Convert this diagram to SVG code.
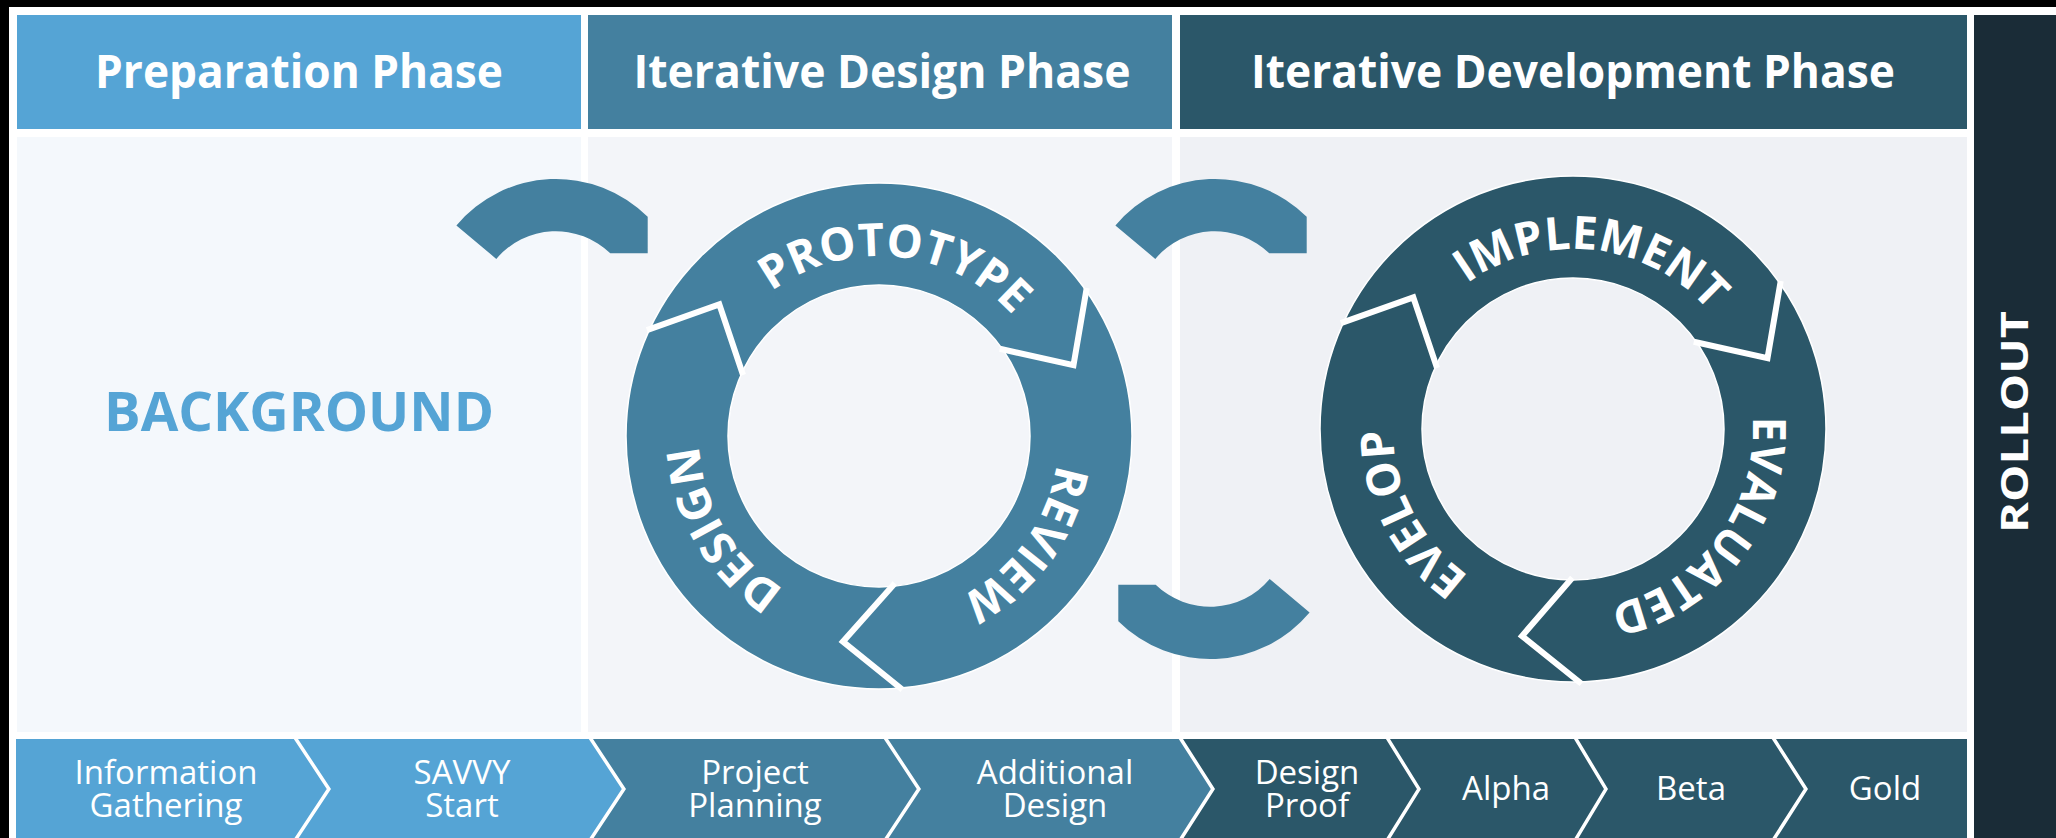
<svg xmlns="http://www.w3.org/2000/svg" width="2056" height="838" viewBox="0 0 2056 838">
<style>
.hdr{font-family:"Open Sans","Noto Sans","DejaVu Sans",sans-serif;font-weight:700;font-size:47px;fill:#fff;text-anchor:middle}
.ring{font-family:"Open Sans","Noto Sans","DejaVu Sans",sans-serif;font-weight:700;font-size:46px;fill:#fff;text-anchor:middle}
.chv{font-family:"Open Sans","Noto Sans","DejaVu Sans",sans-serif;font-size:33px;fill:#fff;text-anchor:middle}
.sep{fill:none;stroke:#fff;stroke-width:6;stroke-linejoin:miter;stroke-linecap:square}
.csep{fill:none;stroke:#fff;stroke-width:7;stroke-linejoin:miter}
.light{fill:#55a4d5}.mid{fill:#44809f}.dark{fill:#2b5769}
.ringbody{fill-rule:evenodd;stroke:#fff;stroke-width:1.5}
</style>
<defs>
<path id="arcD" d="M699.69,420.31 A180,180 0 0 1 1058.31,420.31"/>
<path id="arcV" d="M1393.69,413.31 A180,180 0 0 1 1752.31,413.31"/>
<path id="conn" d="M-99.6,-83.6 A130,130 0 0 1 91.7,-92.2 L91.7,-55.7 L54.3,-55.7 A78,78 0 0 0 -59.7,-50.1 Z"/>
</defs>

<rect width="2056" height="838" fill="#000"/>
<rect x="9" y="7" width="2047" height="831" fill="#fff"/>

<g id="backgrounds">
<rect x="17" y="137" width="564" height="595" fill="#f4f8fc"/>
<rect x="588" y="137" width="584" height="595" fill="#f3f5f9"/>
<rect x="1180" y="137" width="787" height="595" fill="#eff1f5"/>
</g>

<g id="header-preparation">
<rect class="light" x="17" y="15" width="564" height="114"/>
<text class="hdr" x="299" y="88" textLength="408" lengthAdjust="spacingAndGlyphs">Preparation Phase</text>
</g>
<g id="header-design">
<rect class="mid" x="588" y="15" width="584" height="114"/>
<text class="hdr" x="882" y="88" textLength="497" lengthAdjust="spacingAndGlyphs">Iterative Design Phase</text>
</g>
<g id="header-development">
<rect class="dark" x="1180" y="15" width="787" height="114"/>
<text class="hdr" x="1573" y="88" textLength="644" lengthAdjust="spacingAndGlyphs">Iterative Development Phase</text>
</g>
<g id="rollout">
<rect x="1974" y="15" width="82" height="823" fill="#1a2c37"/>
<text transform="translate(2028,422) rotate(-90)" font-family="'Open Sans','Noto Sans','DejaVu Sans',sans-serif" font-weight="700" font-size="38" fill="#fff" text-anchor="middle" textLength="222" lengthAdjust="spacingAndGlyphs">ROLLOUT</text>
</g>

<g id="background">
<text x="299" y="431" font-family="'Open Sans','Noto Sans','DejaVu Sans',sans-serif" font-weight="700" font-size="54" fill="#55a4d5" text-anchor="middle" textLength="390" lengthAdjust="spacingAndGlyphs">BACKGROUND</text>
</g>

<g id="connectors" class="mid">
<use href="#conn" transform="translate(556,309)"/>
<use href="#conn" transform="translate(1215,309)"/>
<use href="#conn" transform="translate(1210,529) rotate(180)"/>
</g>

<g id="design-cycle">
<path class="mid ringbody" d="M626,436 A253,253 0 1 0 1132,436 A253,253 0 1 0 626,436 Z M728,436 A151,151 0 1 0 1030,436 A151,151 0 1 0 728,436 Z"/>
<polyline class="sep" points="1086.2,290.9 1073.5,365.2 1002.7,349.4"/>
<polyline class="sep" points="900,687.7 842.9,641.7 892.9,585.6"/>
<polyline class="sep" points="649.7,329.1 719.3,304.3 742.1,372.2"/>
<g id="prototype"><text class="ring" transform="rotate(5.65 879 436)"><textPath href="#arcD" startOffset="50%" textLength="266" lengthAdjust="spacingAndGlyphs">PROTOTYPE</textPath></text></g>
<g id="review"><text class="ring" transform="rotate(126.05 879 436)"><textPath href="#arcD" startOffset="50%" textLength="170" lengthAdjust="spacingAndGlyphs">REVIEW</textPath></text></g>
<g id="design"><text class="ring" transform="rotate(239.35 879 436)"><textPath href="#arcD" startOffset="50%" textLength="174" lengthAdjust="spacingAndGlyphs">DESIGN</textPath></text></g>
</g>

<g id="development-cycle">
<path class="dark ringbody" d="M1320,429 A253,253 0 1 0 1826,429 A253,253 0 1 0 1320,429 Z M1422,429 A151,151 0 1 0 1724,429 A151,151 0 1 0 1422,429 Z"/>
<polyline class="sep" points="1780.2,283.9 1767.5,358.2 1696.7,342.4"/>
<polyline class="sep" points="1579.2,681.9 1522,636 1570.4,580"/>
<polyline class="sep" points="1343.7,322.1 1413.3,297.3 1436.1,365.2"/>
<g id="implement"><text class="ring" transform="rotate(6.55 1573 429)"><textPath href="#arcV" startOffset="50%" textLength="268" lengthAdjust="spacingAndGlyphs">IMPLEMENT</textPath></text></g>
<g id="evaluated"><text class="ring" transform="rotate(127.2 1573 429)"><textPath href="#arcV" startOffset="50%" textLength="258" lengthAdjust="spacingAndGlyphs">EVALUATED</textPath></text></g>
<g id="evelop"><text class="ring" transform="rotate(242.6 1573 429)"><textPath href="#arcV" startOffset="50%" textLength="172" lengthAdjust="spacingAndGlyphs">EVELOP</textPath></text></g>
</g>

<g id="step-information-gathering">
<polygon class="light" points="16,739 298,739 331,789 298,839 16,839"/>
<polyline class="csep" points="295.4,735 331,789 295.4,843"/>
<text class="chv" x="166" y="784">Information</text>
<text class="chv" x="166" y="817">Gathering</text>
</g>
<g id="step-savvy-start">
<polygon class="light" points="298,739 593,739 626,789 593,839 298,839 331,789"/>
<polyline class="csep" points="590.4,735 626,789 590.4,843"/>
<text class="chv" x="462" y="784">SAVVY</text>
<text class="chv" x="462" y="817">Start</text>
</g>
<g id="step-project-planning">
<polygon class="mid" points="593,739 888,739 921,789 888,839 593,839 626,789"/>
<polyline class="csep" points="885.4,735 921,789 885.4,843"/>
<text class="chv" x="755" y="784">Project</text>
<text class="chv" x="755" y="817">Planning</text>
</g>
<g id="step-additional-design">
<polygon class="mid" points="888,739 1183,739 1215,789 1183,839 888,839 921,789"/>
<polyline class="csep" points="1180.4,735 1215,789 1180.4,843"/>
<text class="chv" x="1055" y="784">Additional</text>
<text class="chv" x="1055" y="817">Design</text>
</g>
<g id="step-design-proof">
<polygon class="dark" points="1183,739 1390,739 1421,789 1390,839 1183,839 1215,789"/>
<polyline class="csep" points="1387.5,735 1421,789 1387.5,843"/>
<text class="chv" x="1307" y="784">Design</text>
<text class="chv" x="1307" y="817">Proof</text>
</g>
<g id="step-alpha">
<polygon class="dark" points="1390,739 1578,739 1608,789 1578,839 1390,839 1421,789"/>
<polyline class="csep" points="1575.6,735 1608,789 1575.6,843"/>
<text class="chv" x="1506" y="800">Alpha</text>
</g>
<g id="step-beta">
<polygon class="dark" points="1578,739 1776,739 1808,789 1776,839 1578,839 1608,789"/>
<polyline class="csep" points="1773.4,735 1808,789 1773.4,843"/>
<text class="chv" x="1691" y="800">Beta</text>
</g>
<g id="step-gold">
<polygon class="dark" points="1776,739 1967,739 1967,839 1776,839 1808,789"/>
<text class="chv" x="1885" y="800">Gold</text>
</g>
</svg>
